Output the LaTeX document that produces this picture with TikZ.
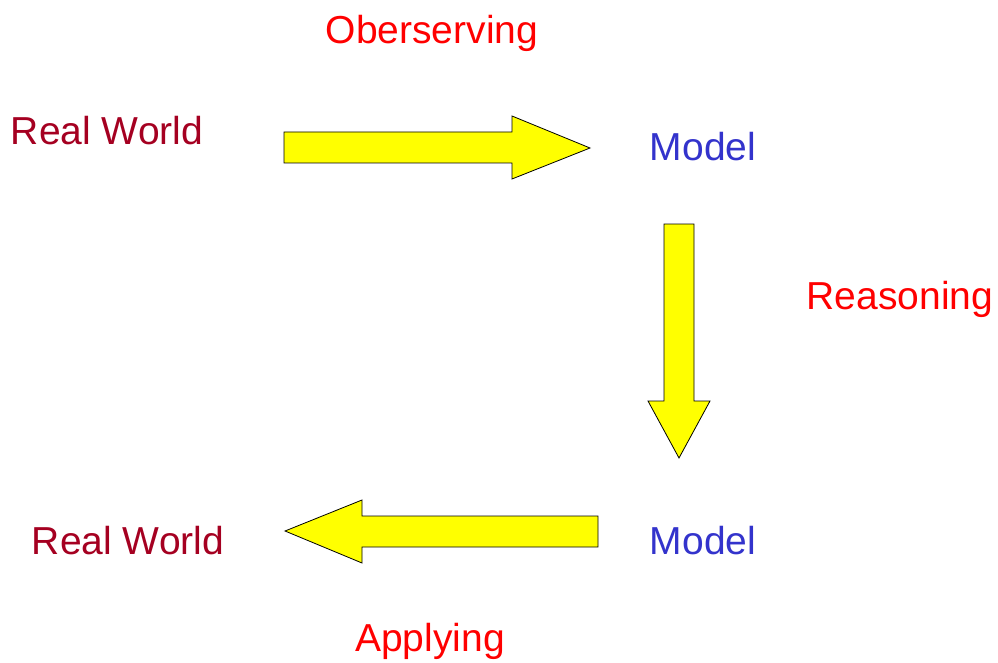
\documentclass[tikz,border=0pt]{standalone}
\usepackage{fontspec}
\setmainfont{Liberation Sans}
\begin{document}
\begin{tikzpicture}[x=1pt,y=-1pt,
  lbl/.style={font=\fontsize{39}{46}\selectfont, inner sep=0pt, text height=31pt, text depth=5pt, anchor=center},
  actlbl/.style={lbl, text=actred},
  worldlbl/.style={lbl, text=worldred},
  modellbl/.style={lbl, text=modelblue},
  bigarrow/.style={fill=arrowyellow, draw=black, line width=0.8pt, line join=miter}]
\definecolor{actred}{HTML}{FF0000}
\definecolor{worldred}{HTML}{A50021}
\definecolor{modelblue}{HTML}{3333CC}
\definecolor{arrowyellow}{HTML}{FFFF00}
\useasboundingbox (0,0) rectangle (998,663);
\fill[white] (0,0) rectangle (998,663);
% labels
\node[actlbl] (obs) at (432,31) {Oberserving};
\node[worldlbl] (rw1) at (107,132) {Real World};
\node[modellbl] (m1) at (703,148) {Model};
\node[actlbl] (rea) at (900,296) {Reasoning};
\node[modellbl] (m2) at (703,541) {Model};
\node[worldlbl] (rw2) at (128,541) {Real World};
\node[actlbl] (app) at (430,638) {Applying};
% arrows
\draw[bigarrow] (284,132) -- (512,132) -- (512,116) -- (590,148) -- (512,179) -- (512,163) -- (284,163) -- cycle;
\draw[bigarrow] (664,224) -- (694,224) -- (694,401) -- (710,401) -- (679,458) -- (648,401) -- (664,401) -- cycle;
\draw[bigarrow] (598,516) -- (362,516) -- (362,500) -- (285,531) -- (362,563) -- (362,547) -- (598,547) -- cycle;
\end{tikzpicture}
\end{document}
